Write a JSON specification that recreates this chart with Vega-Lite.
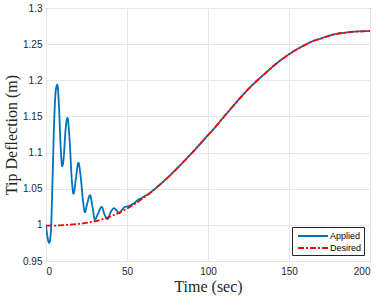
{
  "$schema": "https://vega.github.io/schema/vega-lite/v6.json",
  "width": 324,
  "height": 253,
  "autosize": {"type": "none"},
  "padding": {"left": 46, "top": 8, "right": 10, "bottom": 37},
  "background": "white",
  "config": {
    "view": {"stroke": "#262626", "strokeWidth": 1},
    "axis": {
      "labelFont": "Liberation Sans",
      "labelFontSize": 10,
      "labelColor": "#262626",
      "titleFont": "Liberation Serif",
      "titleFontSize": 16,
      "titleFontWeight": "normal",
      "titleColor": "#262626",
      "gridColor": "#e6e6e6",
      "gridWidth": 1,
      "domain": false,
      "ticks": false
    }
  },
  "data": {
    "values": [
      {"t": 0, "v": 1.0, "s": "Applied"},
      {"t": 1, "v": 0.982, "s": "Applied"},
      {"t": 2, "v": 0.975, "s": "Applied"},
      {"t": 3, "v": 0.99, "s": "Applied"},
      {"t": 4, "v": 1.06, "s": "Applied"},
      {"t": 5, "v": 1.14, "s": "Applied"},
      {"t": 6, "v": 1.185, "s": "Applied"},
      {"t": 7, "v": 1.194, "s": "Applied"},
      {"t": 8, "v": 1.165, "s": "Applied"},
      {"t": 9, "v": 1.11, "s": "Applied"},
      {"t": 10, "v": 1.081, "s": "Applied"},
      {"t": 11, "v": 1.095, "s": "Applied"},
      {"t": 12, "v": 1.13, "s": "Applied"},
      {"t": 13.2, "v": 1.148, "s": "Applied"},
      {"t": 14.5, "v": 1.12, "s": "Applied"},
      {"t": 16, "v": 1.06, "s": "Applied"},
      {"t": 17, "v": 1.043, "s": "Applied"},
      {"t": 18.5, "v": 1.065, "s": "Applied"},
      {"t": 20, "v": 1.086, "s": "Applied"},
      {"t": 21.5, "v": 1.065, "s": "Applied"},
      {"t": 23, "v": 1.03, "s": "Applied"},
      {"t": 24, "v": 1.0175, "s": "Applied"},
      {"t": 25.5, "v": 1.03, "s": "Applied"},
      {"t": 27.2, "v": 1.041, "s": "Applied"},
      {"t": 28.7, "v": 1.025, "s": "Applied"},
      {"t": 30.2, "v": 1.007, "s": "Applied"},
      {"t": 32, "v": 1.015, "s": "Applied"},
      {"t": 34.4, "v": 1.025, "s": "Applied"},
      {"t": 36, "v": 1.015, "s": "Applied"},
      {"t": 37.9, "v": 1.008, "s": "Applied"},
      {"t": 40, "v": 1.018, "s": "Applied"},
      {"t": 42, "v": 1.023, "s": "Applied"},
      {"t": 43.5, "v": 1.02, "s": "Applied"},
      {"t": 45.3, "v": 1.016, "s": "Applied"},
      {"t": 47, "v": 1.021, "s": "Applied"},
      {"t": 49, "v": 1.025, "s": "Applied"},
      {"t": 51, "v": 1.026, "s": "Applied"},
      {"t": 53, "v": 1.028, "s": "Applied"},
      {"t": 55, "v": 1.031, "s": "Applied"},
      {"t": 57, "v": 1.035, "s": "Applied"},
      {"t": 59, "v": 1.037, "s": "Applied"},
      {"t": 61, "v": 1.04, "s": "Applied"},
      {"t": 63, "v": 1.042, "s": "Applied"},
      {"t": 65, "v": 1.0456, "s": "Applied"},
      {"t": 70, "v": 1.055, "s": "Applied"},
      {"t": 75, "v": 1.0651, "s": "Applied"},
      {"t": 80, "v": 1.076, "s": "Applied"},
      {"t": 85, "v": 1.0875, "s": "Applied"},
      {"t": 90, "v": 1.0993, "s": "Applied"},
      {"t": 95, "v": 1.1115, "s": "Applied"},
      {"t": 100, "v": 1.124, "s": "Applied"},
      {"t": 105, "v": 1.1365, "s": "Applied"},
      {"t": 110, "v": 1.15, "s": "Applied"},
      {"t": 115, "v": 1.163, "s": "Applied"},
      {"t": 120, "v": 1.176, "s": "Applied"},
      {"t": 125, "v": 1.188, "s": "Applied"},
      {"t": 130, "v": 1.199, "s": "Applied"},
      {"t": 135, "v": 1.209, "s": "Applied"},
      {"t": 140, "v": 1.219, "s": "Applied"},
      {"t": 145, "v": 1.228, "s": "Applied"},
      {"t": 150, "v": 1.236, "s": "Applied"},
      {"t": 155, "v": 1.243, "s": "Applied"},
      {"t": 160, "v": 1.249, "s": "Applied"},
      {"t": 165, "v": 1.2545, "s": "Applied"},
      {"t": 170, "v": 1.258, "s": "Applied"},
      {"t": 175, "v": 1.2618, "s": "Applied"},
      {"t": 180, "v": 1.2645, "s": "Applied"},
      {"t": 185, "v": 1.266, "s": "Applied"},
      {"t": 190, "v": 1.2672, "s": "Applied"},
      {"t": 195, "v": 1.2678, "s": "Applied"},
      {"t": 200, "v": 1.268, "s": "Applied"},
      {"t": 0, "v": 0.999, "s": "Desired"},
      {"t": 5, "v": 0.999, "s": "Desired"},
      {"t": 10, "v": 0.9995, "s": "Desired"},
      {"t": 15, "v": 1.0003, "s": "Desired"},
      {"t": 20, "v": 1.0013, "s": "Desired"},
      {"t": 25, "v": 1.0027, "s": "Desired"},
      {"t": 30, "v": 1.0049, "s": "Desired"},
      {"t": 35, "v": 1.0079, "s": "Desired"},
      {"t": 40, "v": 1.0118, "s": "Desired"},
      {"t": 45, "v": 1.0166, "s": "Desired"},
      {"t": 50, "v": 1.0225, "s": "Desired"},
      {"t": 55, "v": 1.0292, "s": "Desired"},
      {"t": 60, "v": 1.037, "s": "Desired"},
      {"t": 65, "v": 1.0456, "s": "Desired"},
      {"t": 70, "v": 1.055, "s": "Desired"},
      {"t": 75, "v": 1.0651, "s": "Desired"},
      {"t": 80, "v": 1.076, "s": "Desired"},
      {"t": 85, "v": 1.0875, "s": "Desired"},
      {"t": 90, "v": 1.0993, "s": "Desired"},
      {"t": 95, "v": 1.1115, "s": "Desired"},
      {"t": 100, "v": 1.124, "s": "Desired"},
      {"t": 105, "v": 1.1365, "s": "Desired"},
      {"t": 110, "v": 1.15, "s": "Desired"},
      {"t": 115, "v": 1.163, "s": "Desired"},
      {"t": 120, "v": 1.176, "s": "Desired"},
      {"t": 125, "v": 1.188, "s": "Desired"},
      {"t": 130, "v": 1.199, "s": "Desired"},
      {"t": 135, "v": 1.209, "s": "Desired"},
      {"t": 140, "v": 1.219, "s": "Desired"},
      {"t": 145, "v": 1.228, "s": "Desired"},
      {"t": 150, "v": 1.236, "s": "Desired"},
      {"t": 155, "v": 1.243, "s": "Desired"},
      {"t": 160, "v": 1.249, "s": "Desired"},
      {"t": 165, "v": 1.2545, "s": "Desired"},
      {"t": 170, "v": 1.258, "s": "Desired"},
      {"t": 175, "v": 1.2618, "s": "Desired"},
      {"t": 180, "v": 1.2645, "s": "Desired"},
      {"t": 185, "v": 1.266, "s": "Desired"},
      {"t": 190, "v": 1.2672, "s": "Desired"},
      {"t": 195, "v": 1.2678, "s": "Desired"},
      {"t": 200, "v": 1.268, "s": "Desired"}
    ]
  },
  "mark": {"type": "line", "interpolate": "monotone", "strokeWidth": 1.8, "clip": true},
  "encoding": {
    "x": {
      "field": "t", "type": "quantitative",
      "scale": {"domain": [0, 200], "nice": false},
      "axis": {"values": [0, 50, 100, 150, 200], "title": "Time (sec)", "labelPadding": 5, "titlePadding": 2}
    },
    "y": {
      "field": "v", "type": "quantitative",
      "scale": {"domain": [0.95, 1.3], "nice": false, "zero": false},
      "axis": {"values": [0.95, 1, 1.05, 1.1, 1.15, 1.2, 1.25, 1.3], "format": ".2~f", "title": "Tip Deflection (m)", "labelPadding": 4, "titlePadding": 3}
    },
    "color": {
      "field": "s", "type": "nominal",
      "scale": {"domain": ["Applied", "Desired"], "range": ["#0072BD", "#FF0000"]},
      "legend": {
        "title": null,
        "orient": "none",
        "legendX": 246,
        "legendY": 219,
        "direction": "vertical",
        "strokeColor": "#262626",
        "fillColor": "white",
        "padding": 2,
        "symbolType": "M-2.5,0L2.5,0",
        "symbolSize": 144,
        "symbolStrokeWidth": 2,
        "symbolOffset": 12,
        "labelOffset": 10,
        "labelFont": "Liberation Sans",
        "labelFontSize": 9,
        "labelColor": "#000000",
        "rowPadding": 0
      }
    },
    "strokeDash": {
      "field": "s", "type": "nominal",
      "scale": {"domain": ["Applied", "Desired"], "range": [[1, 0], [6, 2, 2, 2]]},
      "legend": null
    }
  }
}
